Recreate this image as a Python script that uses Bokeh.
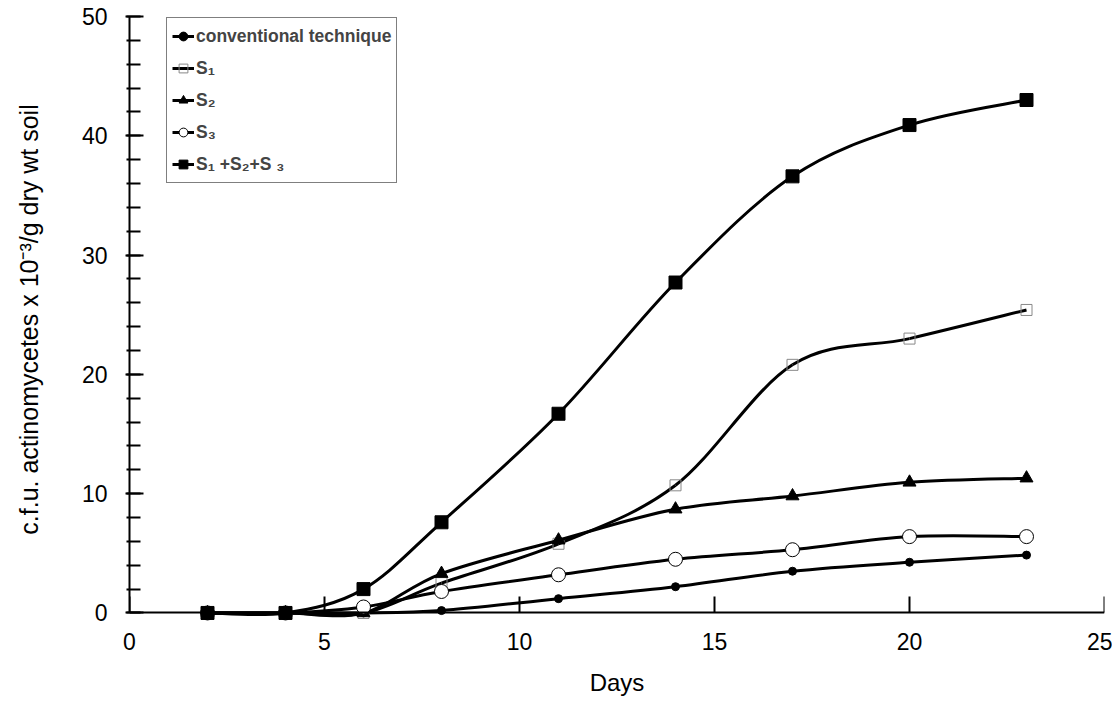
from bokeh.plotting import figure
from bokeh.models import Range1d, Legend, LegendItem, ColumnDataSource, FixedTicker, LinearAxis
from bokeh.embed import file_html
from bokeh.resources import INLINE

days = [2, 4, 6, 8, 11, 14, 17, 20, 23]
conventional = [0, 0, 0, 0.2, 1.2, 2.2, 3.5, 4.25, 4.85]
s1 = [0, 0, 0, 2.5, 5.8, 10.7, 20.8, 23.0, 25.4]
s2 = [0, 0, 0, 3.3, 6.1, 8.7, 9.8, 10.95, 11.3]
s3 = [0, 0, 0.5, 1.8, 3.2, 4.5, 5.3, 6.4, 6.4]
s123 = [0, 0, 2.0, 7.6, 16.7, 27.7, 36.6, 40.9, 43.0]

labels = ["conventional technique", "S\u2081", "S\u2082", "S\u2083", "S\u2081 +S\u2082+S \u2083"]
x_ticks = [0, 5, 10, 15, 20, 25]
y_ticks = [0, 10, 20, 30, 40, 50]

FONT = "Liberation Sans"

p = figure(width=1112, height=700, output_backend="svg", toolbar_location=None,
           x_range=Range1d(0, 25), y_range=Range1d(-0.8, 50),
           min_border_left=129, min_border_top=16, min_border_right=8, min_border_bottom=78)
p.outline_line_color = None
p.xgrid.visible = False
p.ygrid.visible = False
p.background_fill_color = "white"
p.border_fill_color = "white"


def bezier_source(xs, ys):
    n = len(xs)
    d = dict(x0=[], y0=[], x1=[], y1=[], cx0=[], cy0=[], cx1=[], cy1=[])
    for i in range(n - 1):
        im = max(i - 1, 0)
        ip2 = min(i + 2, n - 1)
        d["x0"].append(xs[i]); d["y0"].append(ys[i])
        d["x1"].append(xs[i + 1]); d["y1"].append(ys[i + 1])
        d["cx0"].append(xs[i] + (xs[i + 1] - xs[im]) / 6)
        d["cy0"].append(ys[i] + (ys[i + 1] - ys[im]) / 6)
        d["cx1"].append(xs[i + 1] - (xs[ip2] - xs[i]) / 6)
        d["cy1"].append(ys[i + 1] - (ys[ip2] - ys[i]) / 6)
    return ColumnDataSource(d)


series = [conventional, s1, s2, s3, s123]
styles = [
    dict(marker="circle", size=8, fill_color="black", line_color="black", line_width=1),
    dict(marker="square", size=11, fill_color=None, line_color="#888888", line_width=1),
    dict(marker="triangle", size=13, fill_color="black", line_color="black", line_width=1),
    dict(marker="circle", size=14, fill_color="white", line_color="black", line_width=1),
    dict(marker="square", size=13, fill_color="black", line_color="black", line_width=1),
]

items = []
for vals, st, lab in zip(series, styles, labels):
    bz = p.bezier(source=bezier_source(days, vals), x0="x0", y0="y0", x1="x1", y1="y1",
                  cx0="cx0", cy0="cy0", cx1="cx1", cy1="cy1", line_color="black", line_width=3)
    sc = p.scatter(x=days, y=vals, **st)
    items.append(LegendItem(label=lab, renderers=[bz, sc]))

legend = Legend(items=items, location=(37, 439), border_line_color="black", border_line_width=1.5,
                label_text_font=FONT, label_text_font_style="bold", label_text_font_size="17.5px",
                glyph_width=22, glyph_height=26, label_height=26, label_standoff=2,
                spacing=6, padding=5, margin=0, background_fill_alpha=1)
p.add_layout(legend)

# Labels-only x axis at the frame bottom
p.xaxis.ticker = FixedTicker(ticks=x_ticks)
p.xaxis.axis_line_color = None
p.xaxis.major_tick_line_color = None
p.xaxis.minor_tick_line_color = None
p.xaxis.major_tick_in = 0
p.xaxis.major_tick_out = 0
p.xaxis.major_label_standoff = 10
p.xaxis.major_label_text_font = FONT
p.xaxis.major_label_text_font_size = "23px"
p.xaxis.major_label_text_color = "black"
p.xaxis.axis_label = "Days"
p.xaxis.axis_label_text_font = FONT
p.xaxis.axis_label_text_font_style = "normal"
p.xaxis.axis_label_text_font_size = "24px"
p.xaxis.axis_label_text_color = "black"
p.xaxis.axis_label_standoff = 16

# Axis line and ticks placed at y = 0 (no labels of its own)
zero_axis = LinearAxis(ticker=FixedTicker(ticks=x_ticks), fixed_location=0,
                       axis_line_color="black", axis_line_width=2,
                       major_tick_line_width=2, major_tick_in=0, major_tick_out=16,
                       minor_tick_line_color=None, major_label_text_font_size="1px",
                       major_label_text_color=None, major_label_standoff=0)
p.add_layout(zero_axis, "above")

p.yaxis.ticker = FixedTicker(ticks=y_ticks, minor_ticks=list(range(0, 51, 2)))
p.yaxis.bounds = (0, 50)
p.yaxis.major_tick_in = 14
p.yaxis.major_tick_out = 4
p.yaxis.minor_tick_in = 11
p.yaxis.minor_tick_out = 3
p.yaxis.axis_line_color = "black"
p.yaxis.axis_line_width = 2
p.yaxis.major_tick_line_width = 2
p.yaxis.minor_tick_line_width = 2
p.yaxis.major_label_text_font = FONT
p.yaxis.major_label_text_font_size = "23px"
p.yaxis.major_label_text_color = "black"
p.yaxis.major_label_standoff = 18
p.yaxis.axis_label = "c.f.u. actinomycetes x 10\u207b\u00b3/g dry wt soil"
p.yaxis.axis_label_text_font = FONT
p.yaxis.axis_label_text_font_style = "normal"
p.yaxis.axis_label_text_font_size = "25px"
p.yaxis.axis_label_text_color = "black"
p.yaxis.axis_label_standoff = 36

open("out.html", "w").write(file_html(p, INLINE))
